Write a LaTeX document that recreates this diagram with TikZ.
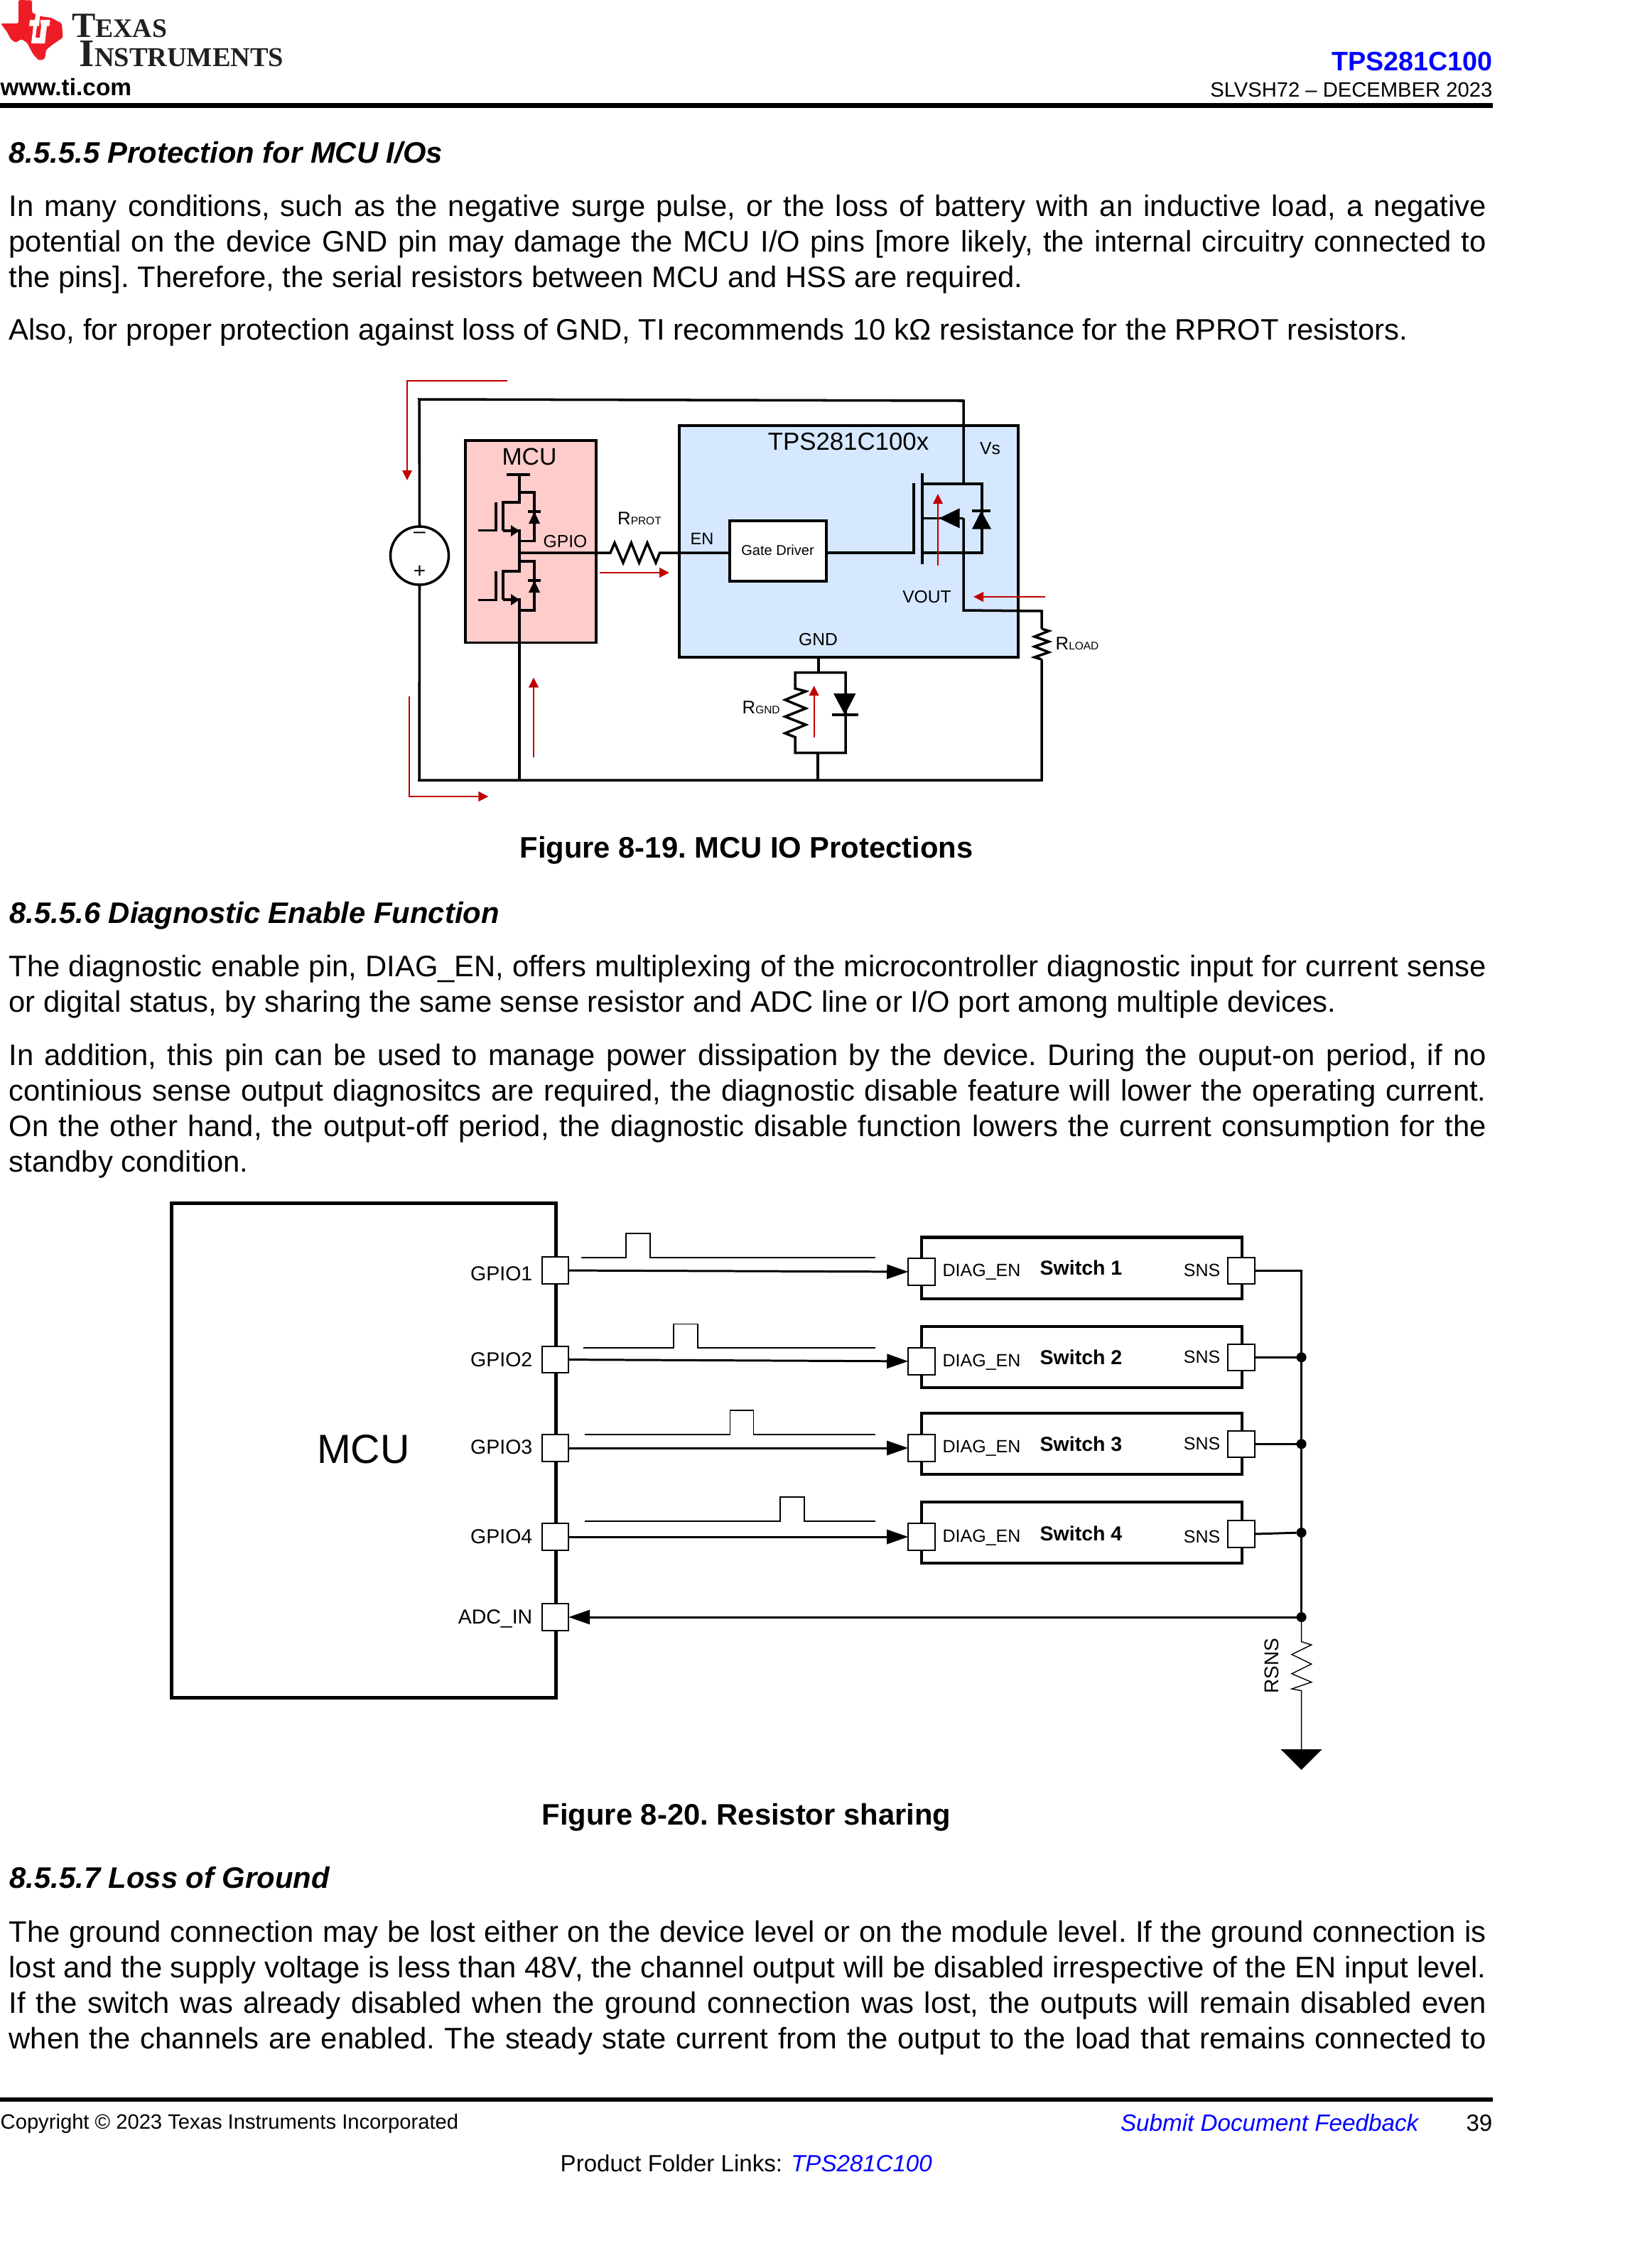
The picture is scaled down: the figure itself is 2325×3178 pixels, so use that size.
\documentclass[tikz,border=0pt]{standalone}
\usepackage{fontspec}
\usepackage{xcolor}
\usepackage{tikz}
\usetikzlibrary{calc, arrows.meta, positioning, shapes}
\setmainfont{Liberation Sans}
\newfontfamily\logofont{Liberation Serif}
\definecolor{tired}{HTML}{EE1C25}
\definecolor{logoink}{HTML}{231F20}
\definecolor{currentred}{HTML}{C00000}
\definecolor{mcupink}{HTML}{FFCCCC}
\definecolor{tpsblue}{HTML}{D5E8FF}
\definecolor{linkblue}{HTML}{0000FF}
\newcommand{\fpx}[1]{\fontsize{#1}{#1}\selectfont}
\newcommand{\bodyfont}{\fontsize{11.87}{14.226}\selectfont\frenchspacing}

\begin{document}
\begin{tikzpicture}[x=0.01cm, y=-0.01cm, >=latex]
	\tikzstyle{para} = [anchor=north west, inner sep=0, text width=20.78cm, align=justify, font=\bodyfont]
	\tikzstyle{heading} = [anchor=base west, inner sep=0, font=\bodyfont\bfseries\itshape]
	\tikzstyle{figcap} = [anchor=base, inner sep=0, font=\bodyfont\bfseries]
	\tikzstyle{lbl} = [anchor=base, inner sep=0, font=\fpx{7}]
	\tikzstyle{lblw} = [anchor=base west, inner sep=0, font=\fpx{7}]
	\tikzstyle{wire} = [line width=1pt]
	\tikzstyle{redarrow} = [line width=0.6pt, draw=currentred, -{Triangle[length=0.14cm, width=0.135cm]}]
	\tikzstyle{wave} = [line width=0.5pt]
	\tikzstyle{sig} = [line width=0.85pt]
	\tikzstyle{sigarrow} = [line width=0.85pt, -{Triangle[length=0.3cm, width=0.2cm]}]
	\tikzstyle{pinbox} = [draw, fill=white, line width=0.6pt, inner sep=0, outer sep=0, minimum width=0.375cm, minimum height=0.372cm]
	\tikzstyle{swbox} = [draw, fill=white, line width=1.15pt, inner sep=0, outer sep=0, minimum width=4.51cm, minimum height=0.865cm]
	\tikzstyle{pinname} = [anchor=base east, inner sep=0, font=\fpx{8.1}]
	\tikzstyle{swname} = [anchor=base west, inner sep=0, font=\fpx{7.1}]
	\tikzstyle{swtitle} = [anchor=base west, inner sep=0, font=\fpx{8.1}\bfseries]
	\tikzstyle{dot} = [circle, fill=black, inner sep=0, outer sep=0, minimum size=0.14cm]

	\path[use as bounding box] (0, 0) rectangle (2325, 3178);

	\fill[tired, rounded corners=0.5pt] (1, 33) -- (26, 33) -- (26, 0) -- (45, 0.5) -- (45, 18) -- (58, 23) -- (72, 25) -- (87, 33) -- (88.5, 53) -- (75, 62) -- (65, 70) -- (63, 83) -- (55, 85) -- (47, 77) -- (38, 60) -- (30, 55) -- (22, 60) -- (15, 55) -- (10, 45) -- cycle;
	\fill[white] (51, 16) -- (57, 16) -- (55.7, 28) -- (55, 36.7) -- (52, 36.7) -- (50, 53) -- (64, 53) -- (63, 61) -- (44, 61) -- (47, 36.7) -- (41, 36.7) -- (42, 28) -- (49, 28) -- cycle;
	\fill[white] (58.5, 5) -- (65.5, 5) -- (64, 14) -- (57, 14) -- cycle;
	\fill[white] (56.7, 28) -- (70.5, 28) -- (69.5, 36.7) -- (66, 36.7) -- (63, 61) -- (55, 61) -- (58, 36.7) -- cycle;
	\node[anchor=north west, inner sep=0, align=left, text=logoink, font=\logofont\bfseries\fontsize{11}{11.75}\selectfont] at (100.6, 9.5) (logotext) {\rule{0pt}{12pt}{\fpx{14.2}T}{\fpx{10.7}EXAS}\\\hspace*{0.104cm}{\fpx{15.6}I}{\fpx{10.9}NSTRUMENTS}};

	\node[anchor=base west, inner sep=0, font=\fpx{9.5}\bfseries] at (0, 134) (site) {www.ti.com};
	\node[anchor=base east, inner sep=0, font=\fpx{10.7}\bfseries, text=linkblue] at (2101, 99) (partno) {TPS281C100};
	\node[anchor=base east, inner sep=0, font=\fpx{8.3}] at (2101, 136) (docno) {SLVSH72 -- DECEMBER 2023};
	\fill (0, 145) rectangle (2101, 152);

	\node[heading] at (12, 229) (h1) {8.5.5.5 Protection for MCU I/Os};
	\node[para] at (12, 269) (p1) {\strut In many conditions, such as the negative surge pulse, or the loss of battery with an inductive load, a negative\linebreak potential on the device GND pin may damage the MCU I/O pins [more likely, the internal circuitry connected to\linebreak the pins]. Therefore, the serial resistors between MCU and HSS are required.};
	\node[para] at (12, 443) (p2) {\strut Also, for proper protection against loss of GND, TI recommends 10 kΩ resistance for the RPROT resistors.};

	\node[draw, fill=tpsblue, wire, inner sep=0, outer sep=0, minimum width=4.77cm, minimum height=3.26cm] at (1194.5, 762) (tps) {};
	\node[draw, fill=mcupink, wire, inner sep=0, outer sep=0, minimum width=1.84cm, minimum height=2.845cm] at (747, 762.2) (mcua) {};
	\node[draw, circle, wire, inner sep=0, outer sep=0, minimum size=0.82cm] at (590.5, 782) (vsrc) {};
	\node[anchor=center, inner sep=0, font=\fpx{8.5}] at (590.5, 753) (vminus) {--};
	\node[anchor=center, inner sep=0, font=\fpx{8.5}] at (590.5, 804.5) (vplus) {+};

	\node[lbl, font=\fpx{9.6}] at (745, 654.7) (mcualabel) {MCU};
	\node[lbl, font=\fpx{9.9}] at (1194, 633) (tpslabel) {TPS281C100x};
	\node[lblw] at (1378.5, 639) (vslabel) {Vs};
	\node[lblw] at (764, 770) (gpiolabel) {GPIO};
	\node[lblw, font=\fpx{6.7}] at (971, 766) (enlabel) {EN};
	\node[lbl] at (1304.5, 848.6) (voutlabel) {VOUT};
	\node[lbl] at (1151.5, 908.5) (gndlabel) {GND};
	\node[lblw, font=\fpx{7.3}] at (868.5, 738) (rprot) {R{\fpx{4.4}PROT}};
	\node[lblw, font=\fpx{7.3}] at (1044, 1004.5) (rgnd) {R{\fpx{4.4}GND}};
	\node[lblw, font=\fpx{7.3}] at (1485, 914) (rload) {R{\fpx{4.4}LOAD}};

	\coordinate (vstop) at (1356, 681);
	\coordinate (vsbot) at (1356, 729.4);
	\coordinate (gpion) at (731, 778);
	\coordinate (rp1) at (859, 778);
	\coordinate (rp2) at (928.6, 778);
	\coordinate (gate) at (1286, 778);
	\coordinate (hsgtop) at (1286, 680);
	\coordinate (hsb1) at (1298, 666);
	\coordinate (hsb2) at (1298, 794);
	\coordinate (hsd) at (1298, 681);
	\coordinate (hss) at (1298, 778);
	\coordinate (hsm) at (1298, 729.4);
	\coordinate (gndbus) at (590, 1098);
	\coordinate (lowbus) at (731, 1098);
	\coordinate (midbus) at (1151, 1098);
	\coordinate (rloadtop) at (1466, 885);
	\coordinate (rloadbot) at (1466, 928);
	\coordinate (gtop) at (1152, 946.5);
	\coordinate (gbot) at (1151, 1059.6);

	\draw[wire] (vsrc.north) -- (590, 562) -- (1356, 564) -- (vstop);
	\draw[wire] (vsrc.south) -- (gndbus) -- (1466, 1098) -- (rloadbot);
	\draw[wire] (rloadtop) -- (1476, 888) -- (1456, 896) -- (1476, 903) -- (1456, 910) -- (1476, 918) -- (1456, 925) -- (rloadbot);
	\draw[wire] (vsbot) -- (1356, 859) -- (1466, 860) -- (rloadtop);

	\draw[wire] (713, 668) -- (745.5, 668);
	\draw[wire] (731, 668) -- (731, 707) -- (708, 707) -- (708, 747);
	\draw[wire] (708, 747) -- (731, 747) -- (gpion);
	\draw[wire] (698, 707) -- (698, 746.5) -- (673, 746.5);
	\draw[wire] (731, 693) -- (752, 693) -- (752, 761.6) -- (731, 761.6);
	\draw[wire] (743, 720) -- (761, 720);
	\fill (752, 720) -- (760, 737) -- (744, 737) -- cycle;
	\fill (731, 747) -- (719, 739) -- (719, 755) -- cycle;

	\draw[wire] (gpion) -- (731, 804) -- (708, 804) -- (708, 844);
	\draw[wire] (708, 844) -- (731, 844) -- (lowbus);
	\draw[wire] (698, 804) -- (698, 844.5) -- (673, 844.5);
	\draw[wire] (731, 790) -- (752, 790) -- (752, 859) -- (731, 859);
	\draw[wire] (743, 817) -- (761, 817);
	\fill (752, 817) -- (760, 834) -- (744, 834) -- cycle;
	\fill (731, 844) -- (719, 836) -- (719, 852) -- cycle;

	\node[draw, fill=white, wire, inner sep=0, outer sep=0, minimum width=1.36cm, minimum height=0.85cm] at (1095, 775.5) (gd) {};
	\node[lbl, font=\fpx{5.7}] at (1094.5, 781) (gdlabel) {Gate Driver};

	\draw[wire] (gpion) -- (rp1) -- (865, 764) -- (877, 792) -- (888.4, 764) -- (899.5, 792) -- (911, 764) -- (923, 792) -- (rp2) -- (rp2 -| gd.west);
	\draw[wire] (gd.east |- gate) -- (gate) -- (hsgtop);
	\draw[wire] (hsb1) -- (hsb2);
	\draw[wire] (hsd) -- (1382, 681) -- (1382, 778) -- (hss);
	\draw[wire] (1367.5, 719) -- (1394, 719);
	\fill (1381, 719) -- (1395, 744.5) -- (1368, 744.5) -- cycle;
	\draw[wire] (hsm) -- (vsbot);
	\fill (1321.5, 729.4) -- (1350.5, 715.4) -- (1350.5, 743.4) -- cycle;

	\draw[wire] (tps.south -| gtop) -- (gtop);
	\draw[wire] (1119, 946.5) -- (1190, 946.5) -- (1190, 1059.6) -- (1119, 1059.6) -- (1119, 1037.5) -- (1105, 1032) -- (1134, 1020) -- (1105, 1008.6) -- (1134, 997) -- (1105, 985) -- (1134, 973) -- (1119, 969) -- cycle;
	\draw[wire] (gbot) -- (midbus);
	\fill (1173, 976) -- (1204.5, 976) -- (1189, 1006) -- cycle;
	\draw[wire] (1171, 1006) -- (1208, 1006);

	\coordinate (ra1a) at (714, 536);
	\coordinate (ra1b) at (573, 676);
	\coordinate (ra2a) at (844, 806);
	\coordinate (ra2b) at (942, 806);
	\coordinate (ra3a) at (1320, 795.5);
	\coordinate (ra3b) at (1320, 695);
	\coordinate (ra4a) at (1471, 840);
	\coordinate (ra4b) at (1370, 840);
	\coordinate (ra5a) at (751, 1066);
	\coordinate (ra5b) at (751, 953.5);
	\coordinate (ra6a) at (1145.6, 1037.5);
	\coordinate (ra6b) at (1145.6, 965);
	\coordinate (ra7a) at (576, 980);
	\coordinate (ra7b) at (687.5, 1121);
	\draw[redarrow] (ra1a) -- (573, 536) -- (ra1b);
	\draw[redarrow] (ra2a) -- (ra2b);
	\draw[redarrow] (ra3a) -- (ra3b);
	\draw[redarrow] (ra4a) -- (ra4b);
	\draw[redarrow] (ra5a) -- (ra5b);
	\draw[redarrow] (ra6a) -- (ra6b);
	\draw[redarrow] (ra7a) -- (576, 1121) -- (ra7b);

	\node[figcap] at (1050.5, 1207.4) (cap1) {Figure 8-19. MCU IO Protections};

	\node[heading] at (13, 1299) (h2) {8.5.5.6 Diagnostic Enable Function};
	\node[para] at (12, 1339) (p3) {\strut The diagnostic enable pin, DIAG\_EN, offers multiplexing of the microcontroller diagnostic input for current sense\linebreak or digital status, by sharing the same sense resistor and ADC line or I/O port among multiple devices.};
	\node[para] at (12, 1464) (p4) {\strut In addition, this pin can be used to manage power dissipation by the device. During the ouput-on period, if no\linebreak continious sense output diagnositcs are required, the diagnostic disable feature will lower the operating current.\linebreak On the other hand, the output-off period, the diagnostic disable function lowers the current consumption for the\linebreak standby condition.};

	\node[draw, line width=1.45pt, inner sep=0, outer sep=0, minimum width=5.403cm, minimum height=6.95cm] at (511.85, 2041.5) (mcub) {};
	\node[lbl, font=\fpx{16.3}] at (511.5, 2059) (mcublabel) {MCU};

	\node[pinbox] at (781.4, 1788) (g1) {};
	\node[pinbox] at (781.4, 1913.5) (g2) {};
	\node[pinbox] at (781.4, 2038) (g3) {};
	\node[pinbox] at (781.4, 2163) (g4) {};
	\node[pinbox] at (781.4, 2276) (adc) {};
	\node[pinname] at (750, 1802) (g1name) {GPIO1};
	\node[pinname] at (750, 1923.7) (g2name) {GPIO2};
	\node[pinname] at (750, 2046.5) (g3name) {GPIO3};
	\node[pinname] at (750, 2172) (g4name) {GPIO4};
	\node[pinname] at (750, 2285) (adcname) {ADC\_IN};

	\node[swbox] at (1522.5, 1784.75) (sw1) {};
	\node[swbox] at (1522.5, 1909.85) (sw2) {};
	\node[swbox] at (1522.5, 2031.8) (sw3) {};
	\node[swbox] at (1522.5, 2157) (sw4) {};

	\node[pinbox] at (1297, 1790) (en1) {};
	\node[pinbox] at (1297, 1916) (en2) {};
	\node[pinbox] at (1297, 2038) (en3) {};
	\node[pinbox] at (1297, 2163) (en4) {};
	\node[pinbox] at (1747, 1788.4) (sn1) {};
	\node[pinbox] at (1747, 1910.3) (sn2) {};
	\node[pinbox] at (1747, 2032.3) (sn3) {};
	\node[pinbox] at (1747, 2159) (sn4) {};

	\node[swname] at (1326, 1796.8) (en1name) {DIAG\_EN};
	\node[swname] at (1326, 1923) (en2name) {DIAG\_EN};
	\node[swname] at (1326, 2044) (en3name) {DIAG\_EN};
	\node[swname] at (1326, 2170.5) (en4name) {DIAG\_EN};
	\node[swtitle] at (1463, 1794.6) (sw1name) {Switch 1};
	\node[swtitle] at (1463, 1920) (sw2name) {Switch 2};
	\node[swtitle] at (1463, 2042) (sw3name) {Switch 3};
	\node[swtitle] at (1463, 2168) (sw4name) {Switch 4};
	\node[swname, anchor=base east] at (1718, 1796.8) (sn1name) {SNS};
	\node[swname, anchor=base east] at (1718, 1918.7) (sn2name) {SNS};
	\node[swname, anchor=base east] at (1718, 2040.7) (sn3name) {SNS};
	\node[swname, anchor=base east] at (1718, 2171) (sn4name) {SNS};

	\draw[wave] (818, 1770) -- (881, 1770) -- (881, 1736) -- (915, 1736) -- (915, 1770) -- (1232, 1770);
	\draw[wave] (821.4, 1897) -- (948, 1897) -- (948, 1863.5) -- (982, 1863.5) -- (982, 1897) -- (1232, 1897);
	\draw[wave] (823, 2019) -- (1027.4, 2019) -- (1027.4, 1985) -- (1060.6, 1985) -- (1060.6, 2019) -- (1232, 2019);
	\draw[wave] (823, 2141) -- (1098, 2141) -- (1098, 2107) -- (1132, 2107) -- (1132, 2141) -- (1232, 2141);

	\draw[sigarrow] (g1) -- (en1);
	\draw[sigarrow] (g2) -- (en2);
	\draw[sigarrow] (g3) -- (en3);
	\draw[sigarrow] (g4) -- (en4);

	\node[dot] at (1831.6, 1910.3) (j2) {};
	\node[dot] at (1831.6, 2032.3) (j3) {};
	\node[dot] at (1831.6, 2157) (j4) {};
	\node[dot] at (1831.6, 2276) (jadc) {};
	\coordinate (gndtop) at (1831.6, 2462);

	\draw[sig] (sn1.east) -| (jadc);
	\draw[sig] (sn2) -- (j2);
	\draw[sig] (sn3) -- (j3);
	\draw[sig] (sn4.east) -- (j4);
	\draw[sigarrow] (jadc) -- (adc);
	\draw[line width=0.4pt] (jadc) -- (1831.6, 2310.6) -- (1845.7, 2315) -- (1818, 2328.5) -- (1845.7, 2342) -- (1818, 2355.6) -- (1845.7, 2367.5) -- (1818, 2377) -- (1831.6, 2379.5) -- (gndtop);
	\fill (1802.5, 2462) -- (1860.7, 2462) -- (1831.6, 2491) -- cycle;
	\node[anchor=base, rotate=90, inner sep=0, font=\fpx{8}] at (1799, 2344.7) (rsns) {RSNS};

	\node[figcap] at (1050.5, 2568) (cap2) {Figure 8-20. Resistor sharing};

	\node[heading] at (13, 2657.5) (h3) {8.5.5.7 Loss of Ground};
	\node[para] at (12, 2698) (p5) {\strut The ground connection may be lost either on the device level or on the module level. If the ground connection is\linebreak lost and the supply voltage is less than 48V, the channel output will be disabled irrespective of the EN input level.\linebreak If the switch was already disabled when the ground connection was lost, the outputs will remain disabled even\linebreak when the channels are enabled. The steady state current from the output to the load that remains connected to\linebreak};

	\fill (0, 2952) rectangle (2101, 2958);
	\node[anchor=base west, inner sep=0, font=\fpx{8.3}] at (0, 2996) (copyr) {Copyright © 2023 Texas Instruments Incorporated};
	\node[anchor=base east, inner sep=0, font=\fpx{9.45}\itshape, text=linkblue] at (1997, 2999) (feedback) {Submit Document Feedback};
	\node[anchor=base east, inner sep=0, font=\fpx{9.4}] at (2101, 2999) (pageno) {39};
	\node[anchor=base west, inner sep=0, font=\fpx{9.4}] at (788, 3056) (folder) {Product Folder Links: \textcolor{linkblue}{\itshape TPS281C100}};
\end{tikzpicture}
\end{document}
